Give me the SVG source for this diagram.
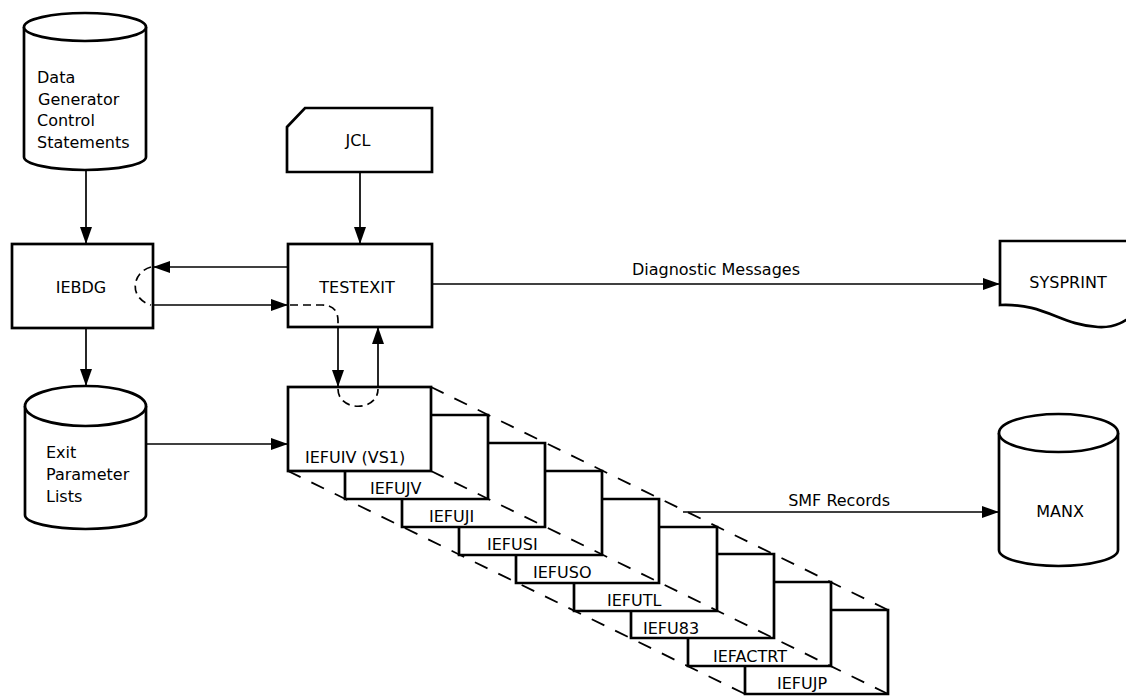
<svg xmlns="http://www.w3.org/2000/svg" width="1126" height="698" viewBox="0 0 1126 698">
<style>
.shape{fill:#fff;stroke:#000;stroke-width:2.7;stroke-linejoin:miter}
.outline{fill:none;stroke:#000;stroke-width:2.7}
.line{fill:none;stroke:#000;stroke-width:1.7}
.dash{fill:none;stroke:#000;stroke-width:1.8;stroke-dasharray:14 12}
.dashc{fill:none;stroke:#000;stroke-width:1.7;stroke-dasharray:8 5}
text{font-family:"DejaVu Sans","Liberation Sans",sans-serif;font-size:16px;fill:#000}
.c{text-anchor:middle}
</style>
<defs>
<marker id="ah" markerUnits="userSpaceOnUse" markerWidth="18" markerHeight="13" refX="17" refY="6" orient="auto">
<path d="M0,0 L17,6 L0,12 Z" fill="#000"/>
</marker>
</defs>
<rect width="1126" height="698" fill="#fff"/>

<g id="datagen">
<path class="shape" d="M24,27 V157 A61,13 0 0 0 146,157 V27"/>
<ellipse class="shape" cx="85" cy="27" rx="61" ry="14"/>
<text x="37" y="83">Data</text>
<text x="38" y="105">Generator</text>
<text x="37" y="126">Control</text>
<text x="37" y="148">Statements</text>
</g>

<g id="iebdg">
<rect class="shape" x="12" y="244" width="141" height="84"/>
<text class="c" x="81" y="293">IEBDG</text>
</g>

<g id="jcl">
<path class="shape" d="M287,127 L305,108 H432 V172 H287 Z"/>
<text class="c" x="358" y="146">JCL</text>
</g>

<g id="testexit">
<rect class="shape" x="288" y="244" width="144" height="83"/>
<text class="c" x="357" y="293">TESTEXIT</text>
</g>

<g id="exitparm">
<path class="shape" d="M25,406 V515 A60.5,14 0 0 0 146,515 V406"/>
<ellipse class="shape" cx="85.5" cy="406" rx="60.5" ry="20"/>
<text x="46" y="458">Exit</text>
<text x="46" y="480">Parameter</text>
<text x="46" y="502">Lists</text>
</g>

<g id="sysprint">
<path class="shape" d="M1000,241 H1140 V310 C1125,322 1115,328 1098,327 C1060,325 1045,303 1000,305 Z"/>
<text class="c" x="1068" y="288">SYSPRINT</text>
</g>

<g id="manx">
<path class="shape" d="M999,433 V550 A59.5,16 0 0 0 1118,550 V433"/>
<ellipse class="shape" cx="1058.5" cy="433" rx="59.5" ry="19"/>
<text class="c" x="1060" y="517">MANX</text>
</g>

<g id="exits">
<g id="prism-edges">
<line class="dash" x1="431" y1="387" x2="888" y2="610"/>
<line class="dash" x1="431" y1="471" x2="888" y2="694"/>
<line class="dash" x1="288" y1="471" x2="745" y2="694"/>
</g>
<g id="iefuiv">
<rect class="outline" x="288" y="387" width="143" height="84"/>
<text x="305" y="463">IEFUIV (VS1)</text>
</g>
<g id="iefujv">
<path class="outline" d="M431,415 H488 V499 H345 V471"/>
<text x="370" y="494">IEFUJV</text>
</g>
<g id="iefuji">
<path class="outline" d="M488,443 H545 V527 H402 V499"/>
<text x="429" y="522">IEFUJI</text>
</g>
<g id="iefusi">
<path class="outline" d="M545,471 H602 V555 H459 V527"/>
<text x="487" y="550">IEFUSI</text>
</g>
<g id="iefuso">
<path class="outline" d="M602,499 H659 V583 H516 V555"/>
<text x="533" y="578">IEFUSO</text>
</g>
<g id="iefutl">
<path class="outline" d="M659,527 H717 V611 H574 V583"/>
<text x="607" y="606">IEFUTL</text>
</g>
<g id="iefu83">
<path class="outline" d="M717,554 H774 V638 H631 V611"/>
<text x="643" y="634">IEFU83</text>
</g>
<g id="iefactrt">
<path class="outline" d="M774,582 H831 V666 H688 V638"/>
<text x="713" y="662">IEFACTRT</text>
</g>
<g id="iefujp">
<path class="outline" d="M831,610 H888 V694 H745 V666"/>
<text x="777" y="689">IEFUJP</text>
</g>
</g>

<g id="connectors">
<line class="line" x1="86" y1="170" x2="86" y2="244" marker-end="url(#ah)"/>
<line class="line" x1="86" y1="328" x2="86" y2="386" marker-end="url(#ah)"/>
<line class="line" x1="360" y1="172" x2="360" y2="244" marker-end="url(#ah)"/>
<line class="line" x1="288" y1="267" x2="153" y2="267" marker-end="url(#ah)"/>
<line class="line" x1="153" y1="305" x2="288" y2="305" marker-end="url(#ah)"/>
<path class="dashc" d="M151,267 C132,272 128,298 151,305"/>
<path class="dashc" d="M290,305 H322 Q338,305 338,321 V327"/>
<line class="line" x1="338" y1="327" x2="338" y2="387" marker-end="url(#ah)"/>
<line class="line" x1="378" y1="387" x2="378" y2="327" marker-end="url(#ah)"/>
<path class="dashc" d="M338,389 C338,412 378,412 378,389"/>
<line class="line" x1="146" y1="444" x2="288" y2="444" marker-end="url(#ah)"/>
<line class="line" x1="432" y1="284" x2="1000" y2="284" marker-end="url(#ah)"/>
<text x="800" y="275" text-anchor="end">Diagnostic Messages</text>
<line class="line" x1="683" y1="512" x2="999" y2="512" marker-end="url(#ah)"/>
<text x="890" y="506" text-anchor="end">SMF Records</text>
</g>
</svg>
